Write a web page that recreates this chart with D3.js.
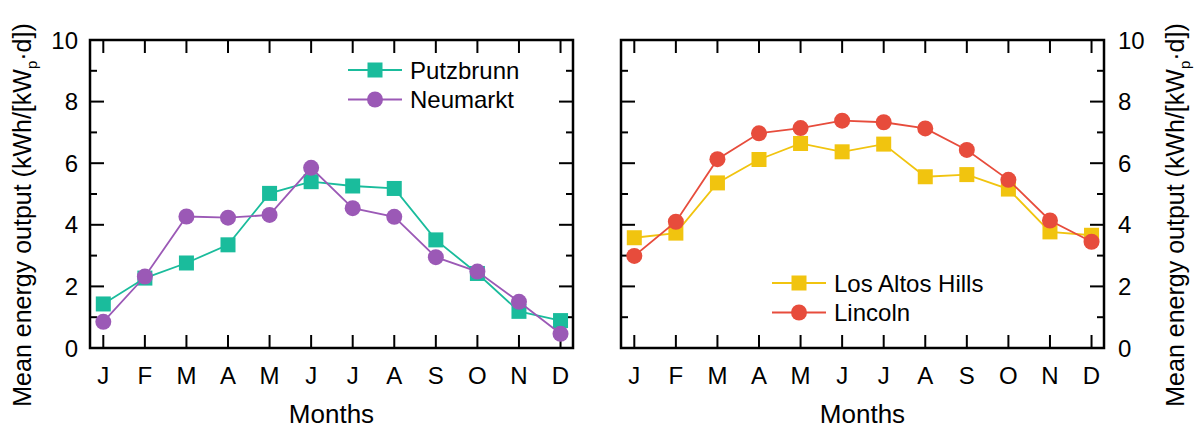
<!DOCTYPE html>
<html><head><meta charset="utf-8">
<script src="https://cdn.jsdelivr.net/npm/d3@7"></script>
<style>body{margin:0;background:#fff}svg{display:block}text{font-family:"Liberation Sans",Arial,sans-serif;fill:#000}</style>
</head><body><svg id="c" width="1200" height="428"></svg>
<script>
const months = ["J","F","M","A","M","J","J","A","S","O","N","D"];
const yTicks = [0,2,4,6,8,10];
const putzbrunn = [1.43,2.27,2.76,3.35,5.02,5.40,5.26,5.18,3.51,2.42,1.19,0.89];
const neumarkt  = [0.85,2.32,4.27,4.23,4.32,5.85,4.54,4.26,2.95,2.48,1.50,0.46];
const losAltos  = [3.58,3.73,5.36,6.12,6.64,6.37,6.62,5.56,5.63,5.16,3.77,3.66];
const lincoln   = [2.99,4.10,6.13,6.97,7.14,7.38,7.33,7.13,6.43,5.46,4.14,3.45];
const yTitle = "Mean energy output (kWh/[kW";

const svg = d3.select("#c");
const top_ = 40, bot = 348;
const y = d3.scaleLinear().domain([0,10]).range([bot, top_]);

function panel(x0, x1, series, labelSide, legendPos) {
  const x = d3.scaleLinear().domain([0.68, 12.3]).range([x0, x1]);
  const g = svg.append("g");
  const idx = d3.range(1,13);
  const tk = g.append("g").attr("stroke","#000").attr("stroke-width",2);
  idx.forEach(i => {
    tk.append("line").attr("x1",x(i)).attr("x2",x(i)).attr("y1",bot).attr("y2",bot-13);
    tk.append("line").attr("x1",x(i)).attr("x2",x(i)).attr("y1",top_).attr("y2",top_+13);
  });
  d3.range(0,11).forEach(v => {
    const L = v%2===0 ? 14 : 7;
    tk.append("line").attr("x1",x0).attr("x2",x0+L).attr("y1",y(v)).attr("y2",y(v));
    tk.append("line").attr("x1",x1).attr("x2",x1-L).attr("y1",y(v)).attr("y2",y(v));
  });
  g.append("rect").attr("x",x0).attr("y",top_).attr("width",x1-x0).attr("height",bot-top_)
    .attr("fill","none").attr("stroke","#000").attr("stroke-width",2.5);
  g.selectAll("text.m").data(months).enter().append("text")
    .attr("x",(d,i)=>x(i+1)).attr("y",384).attr("text-anchor","middle")
    .attr("font-size",24).text(d=>d);
  g.append("text").attr("x",(x0+x1)/2).attr("y",423).attr("text-anchor","middle")
    .attr("font-size",26).text("Months");
  yTicks.forEach(v => {
    g.append("text").attr("x", labelSide==="left" ? x0-12 : x1+14)
      .attr("y", y(v)+8.5).attr("text-anchor", labelSide==="left"?"end":"start")
      .attr("font-size",24).text(v);
  });
  series.forEach(s => {
    const line = d3.line().x((d,i)=>x(i+1)).y(d=>y(d));
    g.append("path").attr("d",line(s.values)).attr("fill","none").attr("stroke",s.color).attr("stroke-width",1.8);
    s.values.forEach((v,i)=>drawMarker(g, s, x(i+1), y(v)));
  });
  series.forEach((s,k) => {
    const ly = legendPos[1] + k*29.5;
    const lx = legendPos[0];
    g.append("line").attr("x1",lx).attr("x2",lx+54).attr("y1",ly).attr("y2",ly).attr("stroke",s.color).attr("stroke-width",1.8);
    drawMarker(g, s, lx+27, ly);
    g.append("text").attr("x",lx+62).attr("y",ly+8.5).attr("font-size",24).text(s.name);
  });
}
function drawMarker(g, s, cx, cy) {
  if (s.shape === "square") {
    g.append("rect").attr("x",cx-7.5).attr("y",cy-7.5).attr("width",15).attr("height",15).attr("fill",s.color);
  } else {
    g.append("circle").attr("cx",cx).attr("cy",cy).attr("r",8).attr("fill",s.color);
  }
}

panel(90, 573, [
  {name:"Putzbrunn", values:putzbrunn, color:"#1abc9c", shape:"square"},
  {name:"Neumarkt", values:neumarkt, color:"#9b59b6", shape:"circle"}
], "left", [348, 70]);
panel(621, 1104, [
  {name:"Los Altos Hills", values:losAltos, color:"#f1c40f", shape:"square"},
  {name:"Lincoln", values:lincoln, color:"#e74c3c", shape:"circle"}
], "right", [772, 283]);

function yt(cx) {
  const t = svg.append("text").attr("transform",`translate(${cx},215) rotate(-90)`)
    .attr("text-anchor","middle").attr("font-size",25);
  t.append("tspan").text(yTitle);
  t.append("tspan").attr("font-size",15).attr("dy",6).text("p");
  t.append("tspan").attr("dy",-6).text("·d])");
}
yt(31); yt(1184);
</script></body></html>
